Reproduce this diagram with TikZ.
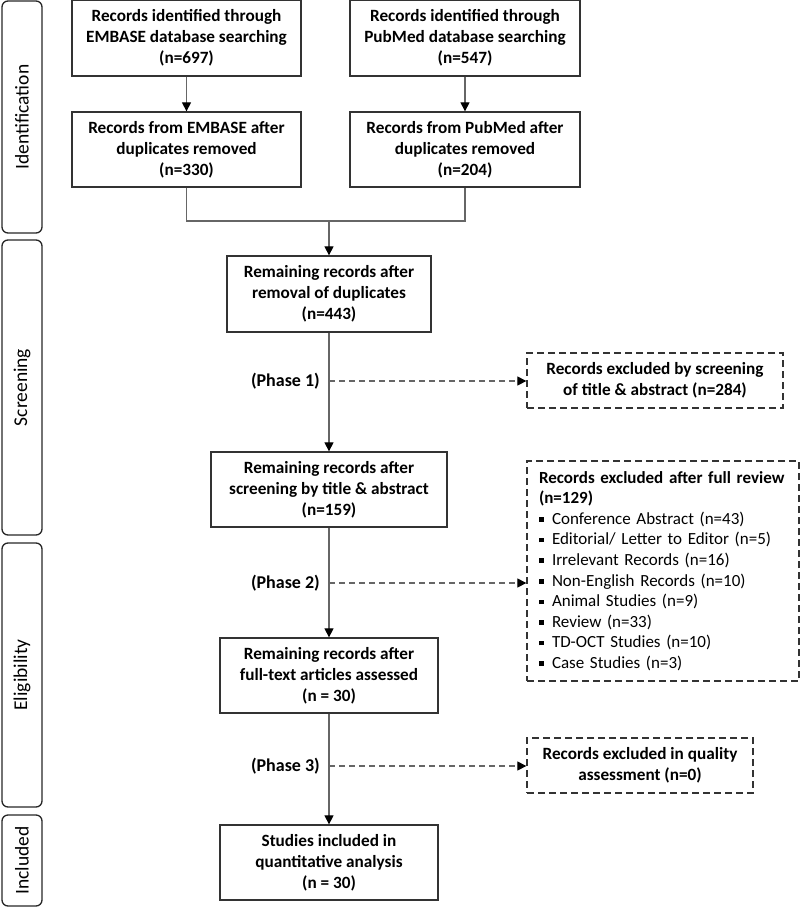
\documentclass[tikz,border=0pt]{standalone}
\usepackage{fontspec}
\setmainfont{Carlito}
\usetikzlibrary{arrows.meta,positioning}

\newcommand{\sqbullet}{\raisebox{2.5pt}{\rule{4.5pt}{4.5pt}}\hspace{8.5pt}}

\begin{document}
\begin{tikzpicture}[x=1pt, y=-1pt,
    box/.style = {draw=black!80, line width=1.3pt, inner sep=0pt, align=center,
                  font=\bfseries\fontsize{17.2}{21}\selectfont},
    exbox/.style = {box, dash pattern=on 7pt off 4pt},
    stage/.style = {draw=black!85, line width=1.3pt, rounded corners=6pt, rotate=90,
                    minimum height=40pt, inner sep=0pt, font=\fontsize{19.5}{22}\selectfont},
    phase/.style = {inner sep=0pt, font=\bfseries\fontsize{18}{21}\selectfont},
    link/.style = {draw=black!60, line width=1.2pt},
    >={Triangle[length=9pt,width=9pt,color=black]}]
\useasboundingbox (0,0) rectangle (800,908);

% stages on the left
\node[stage, minimum width=232pt] (ident) at (22,117)   {Identification};
\node[stage, minimum width=295pt] (screen) at (22,387.5) {Screening};
\node[stage, minimum width=264pt] (elig) at (22,675)    {Eligibility};
\node[stage, minimum width=91pt]  (incl) at (22,860.5)  {Included};

% database searches
\node[box, minimum width=229pt, minimum height=76pt] (emb1) at (186.5,38)
  {Records identified through\\EMBASE database searching\\(n=697)};
\node[box, minimum width=230pt, minimum height=76pt] (pub1) at (465,38)
  {Records identified through\\PubMed database searching\\(n=547)};
\node[box, minimum width=229pt, minimum height=75pt] (emb2) at (186.5,149.5)
  {Records from EMBASE after\\duplicates removed\\(n=330)};
\node[box, minimum width=230pt, minimum height=75pt] (pub2) at (465,149.5)
  {Records from PubMed after\\duplicates removed\\(n=204)};

% main flow
\node[box, minimum width=204pt, minimum height=76pt] (rem1) at (329,294)
  {Remaining records after\\removal of duplicates\\(n=443)};
\node[box, minimum width=236pt, minimum height=75pt] (rem2) at (329,489.5)
  {Remaining records after\\screening by title \& abstract\\(n=159)};
\node[box, minimum width=218pt, minimum height=75pt] (rem3) at (329,675.5)
  {Remaining records after\\full-text articles assessed\\(n = 30)};
\node[box, minimum width=218pt, minimum height=75pt] (final) at (329,862.5)
  {Studies included in\\quantitative analysis\\(n = 30)};

% exclusions
\node[exbox, minimum width=256pt, minimum height=55pt] (ex1) at (655,380.5)
  {Records excluded by screening\\of title \& abstract (n=284)};
\node[exbox, text width=248pt, inner xsep=12pt, minimum height=220pt, align=left,
      font=\bfseries\fontsize{17}{20.6}\selectfont] (ex2) at (663,571)
  {Records excluded after full review\\(n=129)\\
   \mdseries\sqbullet Conference Abstract (n=43)\\
   \sqbullet Editorial/ Letter to Editor (n=5)\\
   \sqbullet Irrelevant Records (n=16)\\
   \sqbullet Non-English Records (n=10)\\
   \sqbullet Animal Studies (n=9)\\
   \sqbullet Review (n=33)\\
   \sqbullet TD-OCT Studies (n=10)\\
   \sqbullet Case Studies (n=3)};
\node[exbox, minimum width=226pt, minimum height=55pt] (ex3) at (640,765.5)
  {Records excluded in quality\\assessment (n=0)};

% phase points
\coordinate (join) at (329,221);
\coordinate (p1) at (329,381);
\coordinate (p2) at (329,583);
\coordinate (p3) at (329,766);
\node[phase, left=9pt of p1] (ph1) {(Phase 1)};
\node[phase, left=9pt of p2] (ph2) {(Phase 2)};
\node[phase, left=9pt of p3] (ph3) {(Phase 3)};

% connectors
\draw[link,->] (emb1) -- (emb2);
\draw[link,->] (pub1) -- (pub2);
\draw[link] (emb2.south) |- (join) -| (pub2.south);
\draw[link,->] (join) -- (rem1);
\draw[link,->] (rem1) -- (rem2);
\draw[link,->] (rem2) -- (rem3);
\draw[link,->] (rem3) -- (final);
\draw[link,dash pattern=on 6pt off 4pt,->] (p1) -- (p1 -| ex1.west);
\draw[link,dash pattern=on 6pt off 4pt,->] (p2) -- (p2 -| ex2.west);
\draw[link,dash pattern=on 6pt off 4pt,->] (p3) -- (p3 -| ex3.west);
\end{tikzpicture}
\end{document}
